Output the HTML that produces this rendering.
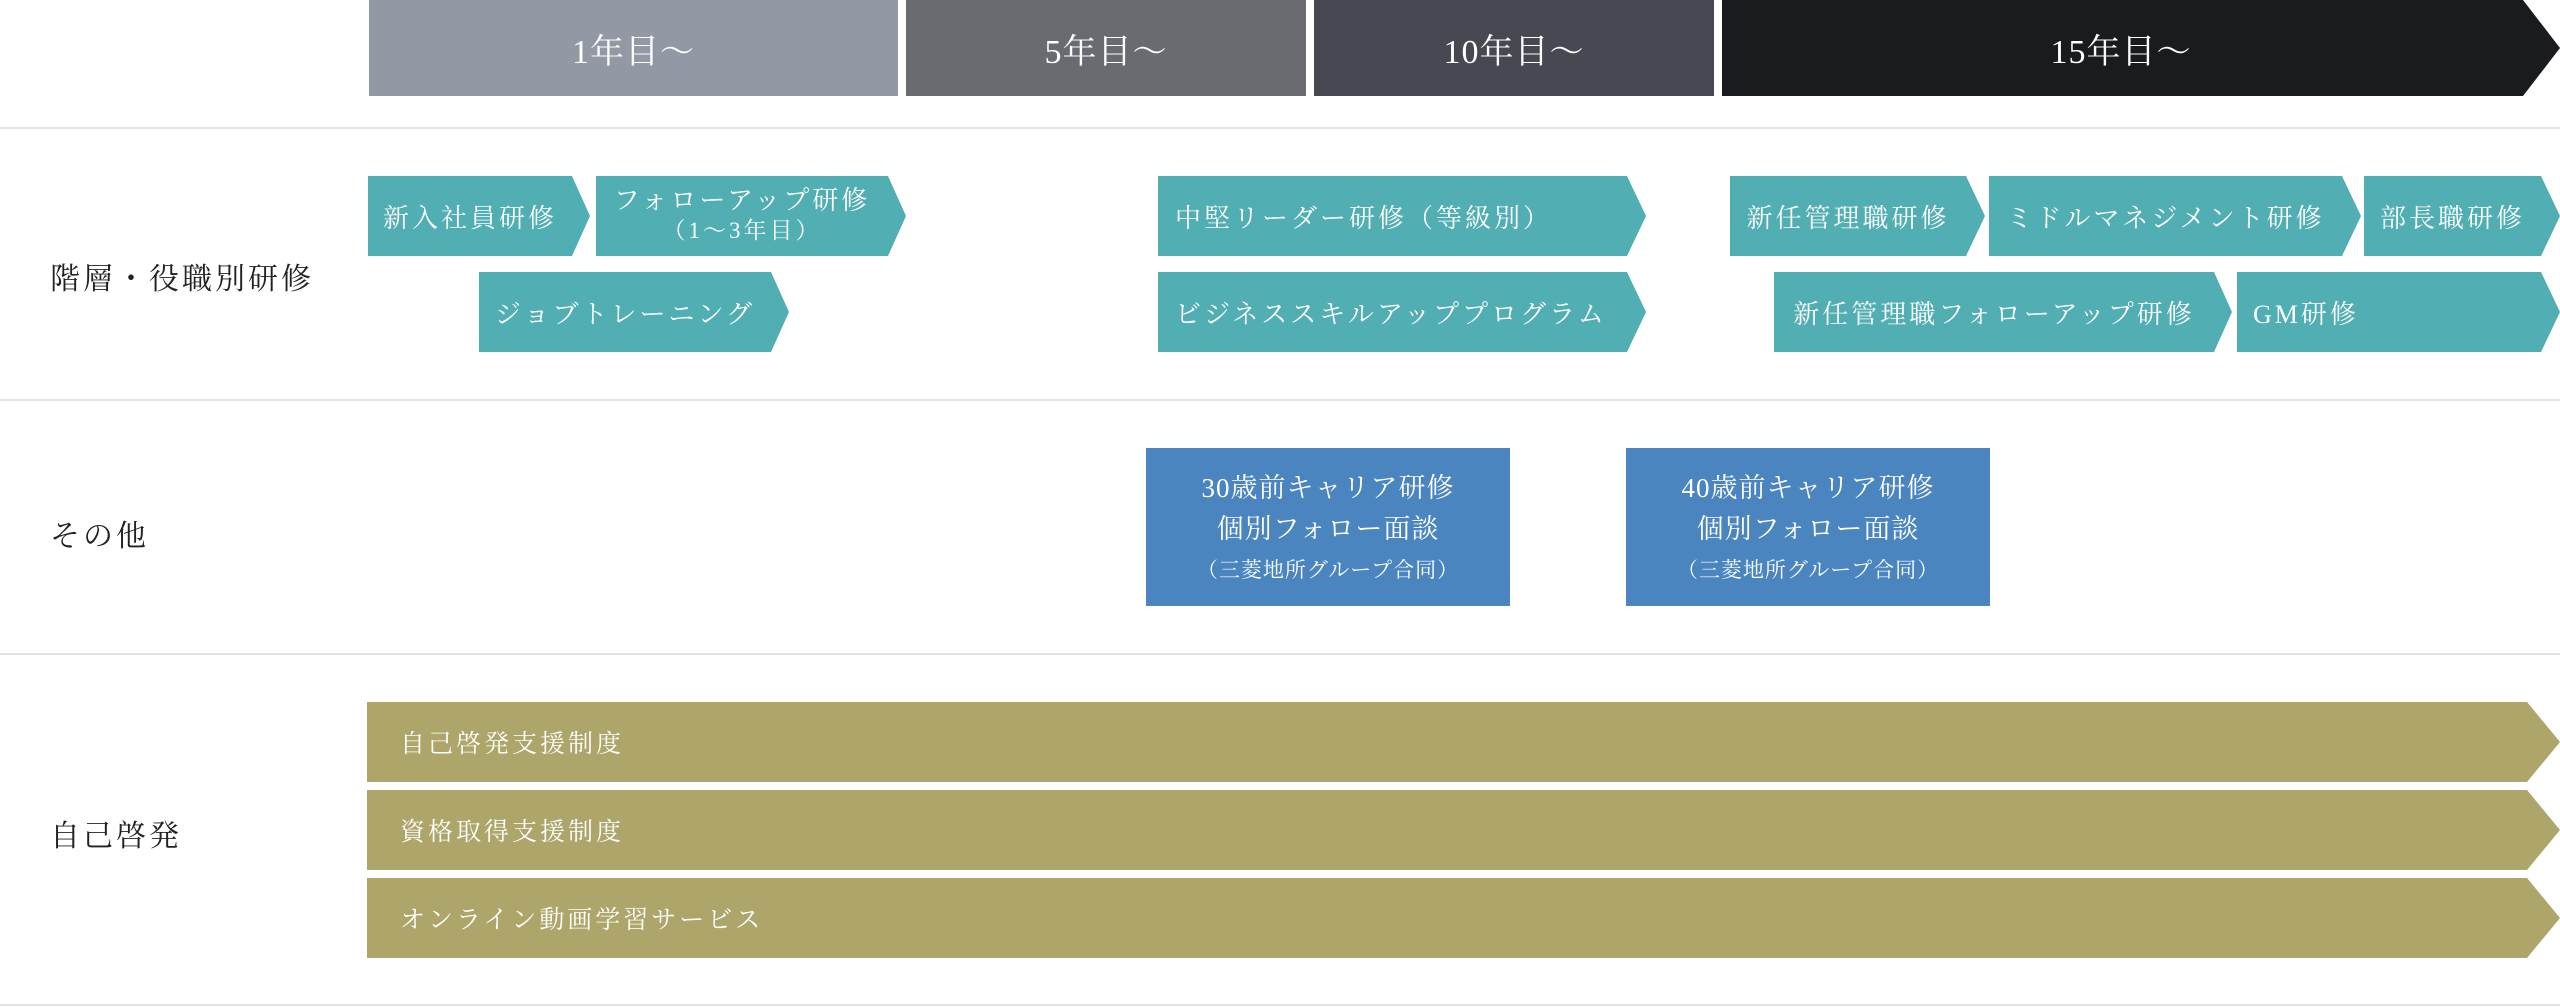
<!DOCTYPE html>
<html><head><meta charset="utf-8"><style>
body{margin:0;width:2560px;height:1007px;background:#fff;position:relative;overflow:hidden;font-family:"Liberation Serif","Noto Serif CJK SC","Noto Serif CJK JP",serif;}
.a{position:absolute;box-sizing:border-box;}
.h{color:#fff;font-size:34px;display:flex;align-items:center;justify-content:center;top:0;height:96px;letter-spacing:1px;}
.line{position:absolute;left:0;width:2560px;height:2px;background:#e4e4e4;}
.t{background:#51aeb3;color:#fff;font-size:26px;letter-spacing:3px;display:flex;align-items:center;justify-content:center;height:80px;}
.lab{position:absolute;left:50px;font-size:30px;color:#222;letter-spacing:3px;}
.b{background:#4a85c0;color:#fff;text-align:center;top:448px;height:158px;width:364px;padding-top:20px;}
.b div{font-size:27px;line-height:41px;letter-spacing:1px}
.b .s{font-size:21px;}
.g{background:#ada569;color:#fff;font-size:25px;letter-spacing:3px;left:367px;width:2193px;height:80px;display:flex;align-items:center;padding-left:33px;clip-path:polygon(0 0,2160px 0,100% 50%,2160px 100%,0 100%);}
</style></head><body>
<div class="a h" style="left:369px;width:529px;background:#9298a4">1年目〜</div>
<div class="a h" style="left:906px;width:400px;background:#6a6b70">5年目〜</div>
<div class="a h" style="left:1314px;width:400px;background:#464951">10年目〜</div>
<div class="a h" style="left:1722px;width:838px;background:#1a1b1f;padding-right:40px;clip-path:polygon(0 0,801px 0,100% 50%,801px 100%,0 100%)">15年目〜</div>
<div class="line" style="top:127px"></div>
<div class="line" style="top:399px"></div>
<div class="line" style="top:653px"></div>
<div class="line" style="top:1004px"></div>

<div class="lab" style="top:254px">階層・役職別研修</div>
<div class="lab" style="top:511px">その他</div>
<div class="lab" style="top:811px">自己啓発</div>

<div class="a t" style="top:176px;left:368px;width:222px;padding-right:18px;clip-path:polygon(0 0,204px 0,100% 50%,204px 100%,0 100%)">新入社員研修</div>
<div class="a t" style="top:176px;left:596px;width:310px;padding-right:18px;flex-direction:column;line-height:30px;clip-path:polygon(0 0,292px 0,100% 50%,292px 100%,0 100%)"><div>フォローアップ研修</div><div style="font-size:23px">（1〜3年目）</div></div>
<div class="a t" style="top:272px;left:479px;width:310px;padding-right:18px;clip-path:polygon(0 0,292px 0,100% 50%,292px 100%,0 100%)">ジョブトレーニング</div>

<div class="a t" style="top:176px;left:1158px;width:488px;justify-content:flex-start;padding-left:17px;clip-path:polygon(0 0,469px 0,100% 50%,469px 100%,0 100%)">中堅リーダー研修（等級別）</div>
<div class="a t" style="top:272px;left:1158px;width:488px;justify-content:flex-start;padding-left:17px;clip-path:polygon(0 0,469px 0,100% 50%,469px 100%,0 100%)">ビジネススキルアッププログラム</div>

<div class="a t" style="top:176px;left:1730px;width:255px;padding-right:19px;clip-path:polygon(0 0,236px 0,100% 50%,236px 100%,0 100%)">新任管理職研修</div>
<div class="a t" style="top:176px;left:1989px;width:372px;padding-right:19px;clip-path:polygon(0 0,353px 0,100% 50%,353px 100%,0 100%)">ミドルマネジメント研修</div>
<div class="a t" style="top:176px;left:2364px;width:196px;padding-right:19px;clip-path:polygon(0 0,177px 0,100% 50%,177px 100%,0 100%)">部長職研修</div>
<div class="a t" style="top:272px;left:1774px;width:458px;padding-right:18px;clip-path:polygon(0 0,440px 0,100% 50%,440px 100%,0 100%)">新任管理職フォローアップ研修</div>
<div class="a t" style="top:272px;left:2237px;width:323px;justify-content:flex-start;padding-left:16px;clip-path:polygon(0 0,304px 0,100% 50%,304px 100%,0 100%)">GM研修</div>

<div class="a b" style="left:1146px"><div>30歳前キャリア研修</div><div>個別フォロー面談</div><div class="s">（三菱地所グループ合同）</div></div>
<div class="a b" style="left:1626px"><div>40歳前キャリア研修</div><div>個別フォロー面談</div><div class="s">（三菱地所グループ合同）</div></div>

<div class="a g" style="top:702px">自己啓発支援制度</div>
<div class="a g" style="top:790px">資格取得支援制度</div>
<div class="a g" style="top:878px">オンライン動画学習サービス</div>
</body></html>
